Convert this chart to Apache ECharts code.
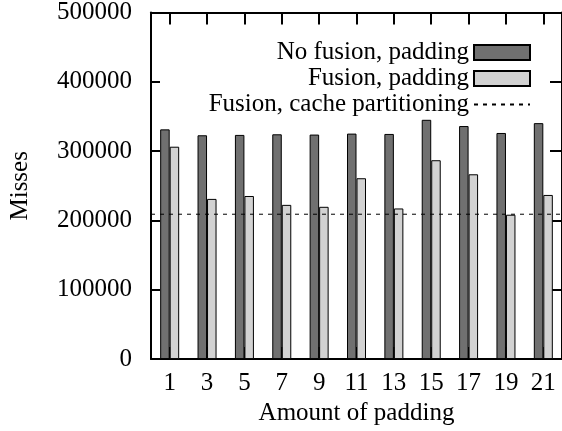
<!DOCTYPE html>
<html>
<head>
<meta charset="utf-8">
<script src="https://cdn.jsdelivr.net/npm/echarts@6/dist/echarts.min.js"></script>
<style>html,body{margin:0;padding:0;background:#fff;}#c{width:562px;height:431px;}</style>
</head>
<body>
<div id="c"></div>
<script>
const paddings = [1, 3, 5, 7, 9, 11, 13, 15, 17, 19, 21];
const noFusionPadding = [331400, 322900, 323400, 324300, 323900, 325300, 324800, 345200, 336200, 326200, 340400];
const fusionPadding = [306400, 231100, 235300, 222500, 219700, 260900, 217300, 286900, 266600, 208300, 236800];
const fusionCachePartitioning = 209000;
const xMin = 0, xMax = 22;

const FONT = 'Liberation Serif';
const chart = echarts.init(document.getElementById('c'), null, {renderer: 'canvas'});
const axisLineStyle = {show: true, onZero: false, lineStyle: {color: '#000', width: 2}};
chart.setOption({
  animation: false,
  backgroundColor: '#fff',
  textStyle: {fontFamily: FONT, color: '#000'},
  grid: {left: 147, top: 12, right: -2, bottom: 67, containLabel: false},
  legend: {
    orient: 'vertical', align: 'right', right: 26, top: 35,
    itemWidth: 56, itemHeight: 15, itemGap: 1,
    textStyle: {fontFamily: FONT, fontSize: 25, color: '#000'},
    data: [
      {name: 'No fusion, padding', icon: 'rect'},
      {name: 'Fusion, padding', icon: 'rect'},
      {name: 'Fusion, cache partitioning', itemStyle: {color: 'rgba(0,0,0,0)'}}
    ]
  },
  xAxis: [
    {
      type: 'value', min: xMin, max: xMax, position: 'bottom',
      axisLine: axisLineStyle, splitLine: {show: false},
      name: 'Amount of padding', nameLocation: 'middle', nameGap: 39,
      nameTextStyle: {fontFamily: FONT, fontSize: 25, color: '#000'},
      axisTick: {show: true, inside: true, length: 12, customValues: paddings, lineStyle: {color: '#000', width: 2}},
      axisLabel: {show: true, customValues: paddings, fontFamily: FONT, fontSize: 25, color: '#000', margin: 12}
    },
    {
      type: 'value', min: xMin, max: xMax, position: 'top',
      axisLine: axisLineStyle, splitLine: {show: false},
      axisTick: {show: true, inside: true, length: 12, customValues: paddings, lineStyle: {color: '#000', width: 2}},
      axisLabel: {show: false}
    }
  ],
  yAxis: [
    {
      type: 'value', min: 0, max: 500000, interval: 100000, position: 'left',
      axisLine: axisLineStyle, splitLine: {show: false},
      name: 'Misses', nameLocation: 'middle', nameGap: 118,
      nameTextStyle: {fontFamily: FONT, fontSize: 25, color: '#000'},
      axisTick: {show: true, inside: true, length: 9, lineStyle: {color: '#000', width: 2}},
      axisLabel: {show: true, fontFamily: FONT, fontSize: 25, color: '#000', margin: 19, formatter: v => String(v)}
    },
    {
      type: 'value', min: 0, max: 500000, interval: 100000, position: 'right',
      axisLine: axisLineStyle, splitLine: {show: false},
      axisTick: {show: true, inside: true, length: 12, lineStyle: {color: '#000', width: 2}},
      axisLabel: {show: false}
    }
  ],
  series: [
    {
      name: 'No fusion, padding', type: 'bar', xAxisIndex: 0, yAxisIndex: 0,
      barWidth: 9.5, barGap: '0%',
      itemStyle: {color: '#707070', borderColor: '#000', borderWidth: 1},
      data: paddings.map((p, i) => [p, noFusionPadding[i]])
    },
    {
      name: 'Fusion, padding', type: 'bar', xAxisIndex: 0, yAxisIndex: 0,
      barWidth: 9.5, barGap: '0%',
      itemStyle: {color: '#d2d2d2', borderColor: '#000', borderWidth: 1},
      data: paddings.map((p, i) => [p, fusionPadding[i]])
    },
    {
      name: 'Fusion, cache partitioning', type: 'line', xAxisIndex: 0, yAxisIndex: 0,
      symbol: 'none', z: 5,
      lineStyle: {color: '#000', width: 1, type: [4, 5]},
      itemStyle: {color: '#000'},
      data: [[xMin, fusionCachePartitioning], [xMax, fusionCachePartitioning]]
    }
  ]
});
</script>
</body>
</html>
